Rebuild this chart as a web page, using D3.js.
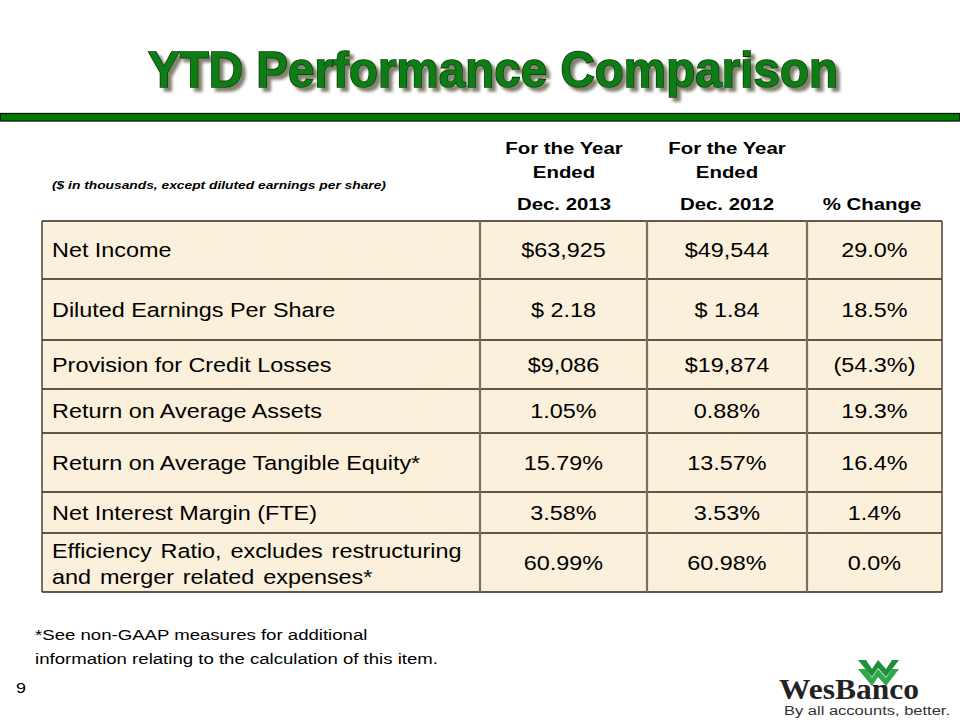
<!DOCTYPE html>
<html><head><meta charset="utf-8">
<script src="https://cdn.jsdelivr.net/npm/d3@7"></script>
<style>body{margin:0;background:#fff}svg{display:block}</style>
</head><body>
<script>
const labels = [
  ["Net Income"],
  ["Diluted Earnings Per Share"],
  ["Provision for Credit Losses"],
  ["Return on Average Assets"],
  ["Return on Average Tangible Equity*"],
  ["Net Interest Margin (FTE)"],
  ["Efficiency Ratio, excludes restructuring", "and merger related expenses*"]
];
const dec2013 = ["$63,925", "$ 2.18", "$9,086", "1.05%", "15.79%", "3.58%", "60.99%"];
const dec2012 = ["$49,544", "$ 1.84", "$19,874", "0.88%", "13.57%", "3.53%", "60.98%"];
const pctChange = ["29.0%", "18.5%", "(54.3%)", "19.3%", "16.4%", "1.4%", "0.0%"];
const columnHeads = [["For the Year", "Ended", "Dec. 2013"], ["For the Year", "Ended", "Dec. 2012"], ["", "", "% Change"]];

const W = 960, H = 720, SX = 1.2;
const FONT = "Liberation Sans, Arial, sans-serif";
const svg = d3.select("body").append("svg").attr("width", W).attr("height", H);
const defs = svg.append("defs");
const f = defs.append("filter").attr("id", "parch").attr("x", 0).attr("y", 0).attr("width", 1).attr("height", 1);
f.append("feTurbulence").attr("type", "fractalNoise").attr("baseFrequency", 0.02).attr("numOctaves", 3).attr("seed", 4).attr("result", "n");
f.append("feColorMatrix").attr("in", "n").attr("type", "matrix")
  .attr("values", "0 0 0 0 0.93  0 0 0 0 0.86  0 0 0 0 0.72  0 0 0 0.35 0").attr("result", "c");
f.append("feComposite").attr("in", "c").attr("in2", "SourceGraphic").attr("operator", "atop");

const sh = defs.append("filter").attr("id", "shadow").attr("x", -0.1).attr("y", -0.2).attr("width", 1.2).attr("height", 1.5);
sh.append("feGaussianBlur").attr("in", "SourceAlpha").attr("stdDeviation", 1.5).attr("result", "b");
sh.append("feOffset").attr("in", "b").attr("dx", 4).attr("dy", 4).attr("result", "o");
sh.append("feFlood").attr("flood-color", "#6b6b55").attr("flood-opacity", 0.85);
sh.append("feComposite").attr("in2", "o").attr("operator", "in").attr("result", "s");
const m = sh.append("feMerge"); m.append("feMergeNode").attr("in", "s"); m.append("feMergeNode").attr("in", "SourceGraphic");

function txt(g, x, yy, s, anchor, size, extra) {
  const t = g.append("text").attr("transform", `translate(${x},${yy}) scale(${SX},1)`)
    .attr("text-anchor", anchor || "start").attr("font-size", size).text(s);
  if (extra) extra(t);
  return t;
}

// Title
svg.append("text").attr("x", 493).attr("y", 87).attr("text-anchor", "middle")
  .attr("font-family", FONT).attr("font-weight", "bold").attr("font-size", 50)
  .attr("textLength", 690).attr("lengthAdjust", "spacingAndGlyphs")
  .attr("fill", "#0f7d14").attr("stroke", "#053805").attr("stroke-width", 1.6).attr("paint-order", "stroke")
  .attr("filter", "url(#shadow)")
  .text("YTD Performance Comparison");

// Green band
svg.append("rect").attr("x", 0.5).attr("y", 113.5).attr("width", 959).attr("height", 7.5)
  .attr("fill", "#007a00").attr("stroke", "#0a1a0a").attr("stroke-width", 1.3);

// Layout
const rowLines = [221, 279, 340, 389, 433, 492, 533, 592];
const colLines = [42, 480, 647, 807, 942];
const y = d3.scaleOrdinal().domain(d3.range(labels.length)).range(rowLines.slice(0, -1));
const rowH = i => rowLines[i + 1] - rowLines[i];
const colCenter = j => (colLines[j + 1] + colLines[j + 2]) / 2;

// Table background
svg.append("rect").attr("x", colLines[0]).attr("y", rowLines[0]).attr("width", colLines[4] - colLines[0])
  .attr("height", rowLines[7] - rowLines[0]).attr("fill", "#fcf1da").attr("filter", "url(#parch)");

// Header
const hdr = svg.append("g").attr("font-family", FONT).attr("font-weight", "bold").attr("fill", "#000");
const hdrCenters = [564, 727, 872];
columnHeads.forEach((lines, j) => {
  [154, 178, 210].forEach((yy, k) => {
    if (lines[k]) txt(hdr, hdrCenters[j], yy, lines[k], "middle", 17);
  });
});
const note = svg.append("g").attr("font-family", FONT).attr("font-weight", "bold").attr("font-style", "italic").attr("fill", "#000");
txt(note, 52, 189, "($ in thousands, except diluted earnings per share)", "start", 11.5);

// Grid lines
const grid = svg.append("g");
rowLines.forEach(ry => grid.append("line").attr("x1", colLines[0]).attr("x2", colLines[4]).attr("y1", ry).attr("y2", ry)
  .attr("stroke", "#2a2418").attr("stroke-width", 1.3));
colLines.forEach((cx, j) => grid.append("line").attr("x1", cx).attr("x2", cx).attr("y1", rowLines[0]).attr("y2", rowLines[7])
  .attr("stroke", j === 0 || j === 4 ? "#4a4030" : "#7d6f5c").attr("stroke-width", j === 0 || j === 4 ? 1.5 : 2.2));

// Cells
const body = svg.append("g").attr("font-family", FONT).attr("fill", "#000");
const rows = body.selectAll("g.row").data(labels.map((l, i) => ({ l, i }))).join("g").attr("class", "row");
rows.each(function (d) {
  const g = d3.select(this);
  const cy = y(d.i) + rowH(d.i) / 2;
  if (d.l.length === 1) {
    txt(g, 52, cy + 7, d.l[0], "start", 19.5);
  } else {
    txt(g, 52, cy - 5, d.l[0], "start", 19.5, t => t.attr("word-spacing", 2));
    txt(g, 52, cy + 21, d.l[1], "start", 19.5, t => t.attr("word-spacing", 2));
  }
  [dec2013[d.i], dec2012[d.i], pctChange[d.i]].forEach((v, j) => {
    txt(g, colCenter(j), cy + 7, v, "middle", 19.5);
  });
});

// Footnote
const fn = svg.append("g").attr("font-family", FONT).attr("fill", "#000");
txt(fn, 35, 640, "*See non-GAAP measures for additional", "start", 15.5);
txt(fn, 35, 664, "information relating to the calculation of this item.", "start", 15.5);
txt(fn, 16, 693, "9", "start", 15);

// Logo
const logo = svg.append("g");
const chev = (dy, col) => logo.append("path")
  .attr("d", `M858,${660 + dy} L866,${660 + dy} L872,${669 + dy} L878,${660 + dy} L886,${669 + dy} L892,${660 + dy} L899,${660 + dy} L886,${677 + dy} L878,${668 + dy} L872,${677 + dy} Z`)
  .attr("fill", col);
chev(0, "#1e8f3a");
chev(9, "#2fa84a");
logo.append("text").attr("x", 779).attr("y", 699).attr("font-family", "Liberation Serif, Times New Roman, serif")
  .attr("font-weight", "bold").attr("font-size", 30).attr("textLength", 140).attr("lengthAdjust", "spacingAndGlyphs")
  .attr("fill", "#222").text("WesBanco");
logo.append("text").attr("x", 784).attr("y", 715).attr("font-family", FONT)
  .attr("font-size", 12).attr("textLength", 166).attr("lengthAdjust", "spacingAndGlyphs")
  .attr("fill", "#333").text("By all accounts, better.");
</script>
</body></html>
